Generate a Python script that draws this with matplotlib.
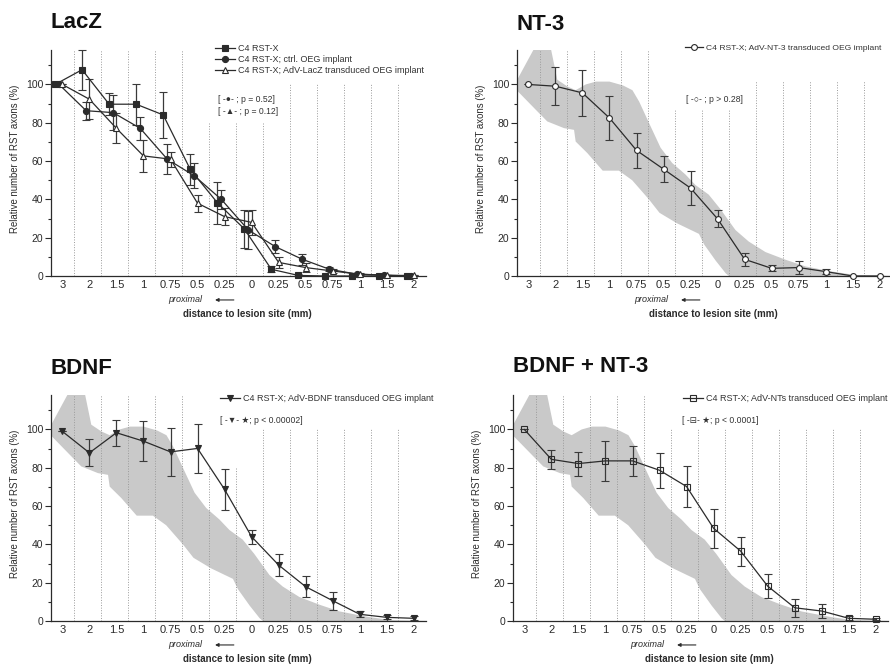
import matplotlib
matplotlib.use('Agg')
import matplotlib.pyplot as plt
import numpy as np

plt.rcParams['font.family'] = ['Liberation Sans', 'DejaVu Sans']

# x categories (distance to lesion site, mm)
distances = ['3', '2', '1.5', '1', '0.75', '0.5', '0.25', '0', '0.25', '0.5', '0.75', '1', '1.5', '2']

# LacZ panel
lacz_rstx = [100, 107.7, 89.7, 89.7, 84.1, 55.7, 38.3, 24.6, 3.5, 0.3, 0, 0, 0, 0]
lacz_rstx_err = [0, 10.5, 5.8, 10.8, 12, 8, 11, 10, 1.5, 0.5, 0, 0, 0, 0]
lacz_ctrl = [100, 86.3, 85.3, 77.1, 61, 52.3, 40, 24, 15.3, 8.7, 3.5, 1, 0.5, 0]
lacz_ctrl_err = [0, 4.8, 9, 6, 8, 6.5, 5, 10, 3.5, 3, 1, 0.5, 0, 0]
lacz_adv = [100, 92.3, 77.1, 62.7, 61, 38, 31, 28, 7.1, 4.4, 2.6, 0.9, 0.3, 0.3]
lacz_adv_err = [0, 10.4, 7.8, 8.2, 4, 4.5, 4.4, 6.5, 3, 2.5, 1, 0.5, 0, 0]

# NT-3 panel
nt3 = [100, 99.1, 95.6, 82.5, 65.6, 55.8, 45.9, 29.8, 8.7, 4, 4.4, 2.3, 0, 0]
nt3_err = [0, 9.8, 12.2, 11.4, 9.2, 6.8, 8.7, 4.4, 3.3, 1.6, 3.3, 1.5, 0, 0]

# BDNF panel
bdnf = [99, 87.8, 98.3, 93.9, 88.3, 90.1, 68.7, 44, 29.2, 17.9, 10.6, 3.5, 1.9, 1.4]
bdnf_err = [0, 7, 6.8, 10.3, 12.5, 12.6, 10.7, 3.7, 5.8, 5.6, 4.6, 1.5, 1, 1]

# BDNF + NT-3 panel
bdnf_nt3 = [100, 84.4, 82.2, 83.6, 83.6, 78.7, 70.2, 48.4, 36.5, 18.2, 6.9, 5.2, 1.4, 0.9]
bdnf_nt3_err = [0, 5, 6.3, 10.5, 7.8, 9.2, 10.6, 10.3, 7.6, 6.2, 4.8, 3.7, 1, 0.5]

# grey range of the LacZ controls (upper / lower edge)
band_up_x = [-0.43, 0.3, 0.8, 1.07, 1.44, 1.75, 2.12, 2.5, 3.0, 3.5, 3.85, 4.1, 4.46, 4.89, 5.32,
             5.81, 6.18, 6.67, 7.1, 7.66, 8.15, 8.77, 9.51, 10.25, 11.24, 12.1, 13.45]
band_up_y = [102, 121, 121, 102.5, 99, 97, 100, 101.5, 101.5, 99.5, 97, 91, 80, 67, 59,
             53, 47.5, 42.5, 35, 24, 18, 12.5, 8.5, 5, 2.3, 0.5, 0]
band_lo_x = [-0.43, 0.33, 0.7, 1.32, 1.69, 1.75, 2.18, 2.75, 3.35, 3.84, 4.46, 4.85, 5.5, 6.31,
             6.5, 6.93, 7.3, 7.42, 13.45]
band_lo_y = [97, 86, 80.7, 77.2, 76.3, 70.2, 64.2, 55, 55, 50, 40, 33, 27.5, 22,
             16.5, 8, 1.4, 0, 0]

x = np.arange(len(distances))
W, H = 890, 665
fig = plt.figure(figsize=(W / 100, H / 100), dpi=100)

dark = '#2b2b2b'
band_col = '#c9c9c9'


def make_ax(left, bottom_px, divider_tops):
    ax = fig.add_axes([left / W, (H - bottom_px) / H, 375 / W, 226 / H])
    ax.set_xlim(-0.42, 13.45)
    ax.set_ylim(0, 118)
    for s in ['top', 'right']:
        ax.spines[s].set_visible(False)
    for s in ['left', 'bottom']:
        ax.spines[s].set_color(dark)
        ax.spines[s].set_linewidth(0.9)
    ax.set_xticks(x)
    ax.set_xticklabels(distances, fontsize=8, color=dark)
    ax.tick_params(axis='x', length=0, pad=3)
    ax.set_yticks([0, 20, 40, 60, 80, 100])
    ax.set_yticks([10, 30, 50, 70, 90, 110], minor=True)
    ax.tick_params(axis='y', which='major', length=4, width=0.8, labelsize=7.5, colors=dark, pad=1.5)
    ax.tick_params(axis='y', which='minor', length=2, width=0.8, colors=dark)
    ax.set_ylabel('Relative number of RST axons (%)', fontsize=6.9, color=dark)
    ax.yaxis.set_label_coords(-0.083, 0.52)
    ax.vlines(x[:-1] + 0.43, 0, divider_tops, colors='#9a9a9a', linestyles=':', linewidth=0.7, zorder=1.5)
    ax.text(0.312, -0.106, 'proximal', transform=ax.transAxes, fontsize=6.5, style='italic',
            color=dark, va='center', ha='left')
    ax.annotate('', xy=(0.43, -0.106), xytext=(0.495, -0.106), xycoords='axes fraction',
                arrowprops=dict(arrowstyle='-|>', color=dark, lw=0.8, mutation_scale=5))
    ax.text(0.523, -0.168, 'distance to lesion site (mm)', transform=ax.transAxes, fontsize=7,
            fontweight='bold', color=dark, ha='center', va='center')
    return ax


def add_band(ax):
    px = list(band_up_x) + list(band_lo_x)[::-1]
    py = list(band_up_y) + list(band_lo_y)[::-1]
    ax.fill(px, py, color=band_col, lw=0, zorder=1)


def series(ax, xs, ys, err, marker, mfc, ms=4.4):
    c = ax.errorbar(xs, ys, yerr=err, color=dark, lw=0.9, marker=marker, ms=ms, mfc=mfc,
                    mec=dark, mew=0.8, ecolor='#3a3a3a', elinewidth=0.9, capsize=3.2, capthick=0.9,
                    zorder=3)
    for ch in c.get_children():
        ch.set_clip_on(False)
    return c[0]


def legend(ax, handles, labels, xa, ya, size=6.5):
    lg = ax.legend(handles, labels, loc='upper left', bbox_to_anchor=(xa, ya), frameon=False,
                   fontsize=size, handlelength=2.2, handletextpad=0.35, labelspacing=0.2,
                   borderaxespad=0, borderpad=0)
    for t in lg.get_texts():
        t.set_color('#333333')


def pnote(ax, xa, ya, s):
    ax.text(xa, ya, s, transform=ax.transAxes, fontsize=6.2, color='#333333', va='center')


# LacZ
ax1 = make_ax(51, 276, [118] * 5 + [80] * 3 + [101] * 5)
h1 = series(ax1, x - 0.27, lacz_rstx, lacz_rstx_err, 's', dark)
h2 = series(ax1, x - 0.12, lacz_ctrl, lacz_ctrl_err, 'o', dark)
h3 = series(ax1, x, lacz_adv, lacz_adv_err, '^', 'white')
legend(ax1, [h1, h2, h3], ['C4 RST-X', 'C4 RST-X; ctrl. OEG implant',
                           'C4 RST-X; AdV-LacZ transduced OEG implant'], 0.437, 1.025)
pnote(ax1, 0.445, 0.779, '[ -●- ; p = 0.52]')
pnote(ax1, 0.445, 0.726, '[ -▲- ; p = 0.12]')

# NT-3
ax2 = make_ax(517, 276, [118] * 5 + [87] * 3 + [102] * 5)
add_band(ax2)
h = series(ax2, x, nt3, nt3_err, 'o', 'white', ms=4.2)
legend(ax2, [h], ['C4 RST-X; AdV-NT-3 transduced OEG implant'], 0.447, 1.025, size=6.1)
pnote(ax2, 0.452, 0.779, '[ -○- ; p > 0.28]')

# BDNF
ax3 = make_ax(51, 621, [118] * 5 + [80] * 2 + [101] * 6)
add_band(ax3)
h = series(ax3, x, bdnf, bdnf_err, 'v', dark)
legend(ax3, [h], ['C4 RST-X; AdV-BDNF transduced OEG implant'], 0.451, 1.005)
pnote(ax3, 0.451, 0.889, '[ -▼- ★; p < 0.00002]')

# BDNF + NT-3
ax4 = make_ax(513, 621, [118] * 5 + [101] * 8)
add_band(ax4)
h = series(ax4, x, bdnf_nt3, bdnf_nt3_err, 's', 'none')
legend(ax4, [h], ['C4 RST-X; AdV-NTs transduced OEG implant'], 0.454, 1.005)
pnote(ax4, 0.451, 0.889, '[ -⊟- ★; p < 0.0001]')

# panel titles
for tx, ty, label in [(51, 23, 'LacZ'), (517, 24, 'NT-3'), (51, 368, 'BDNF'), (513, 367, 'BDNF + NT-3')]:
    fig.text(tx / W, 1 - ty / H, label, fontsize=16, fontweight='bold', color='#111111',
             ha='left', va='center')

fig.savefig('out.png', dpi=100)
